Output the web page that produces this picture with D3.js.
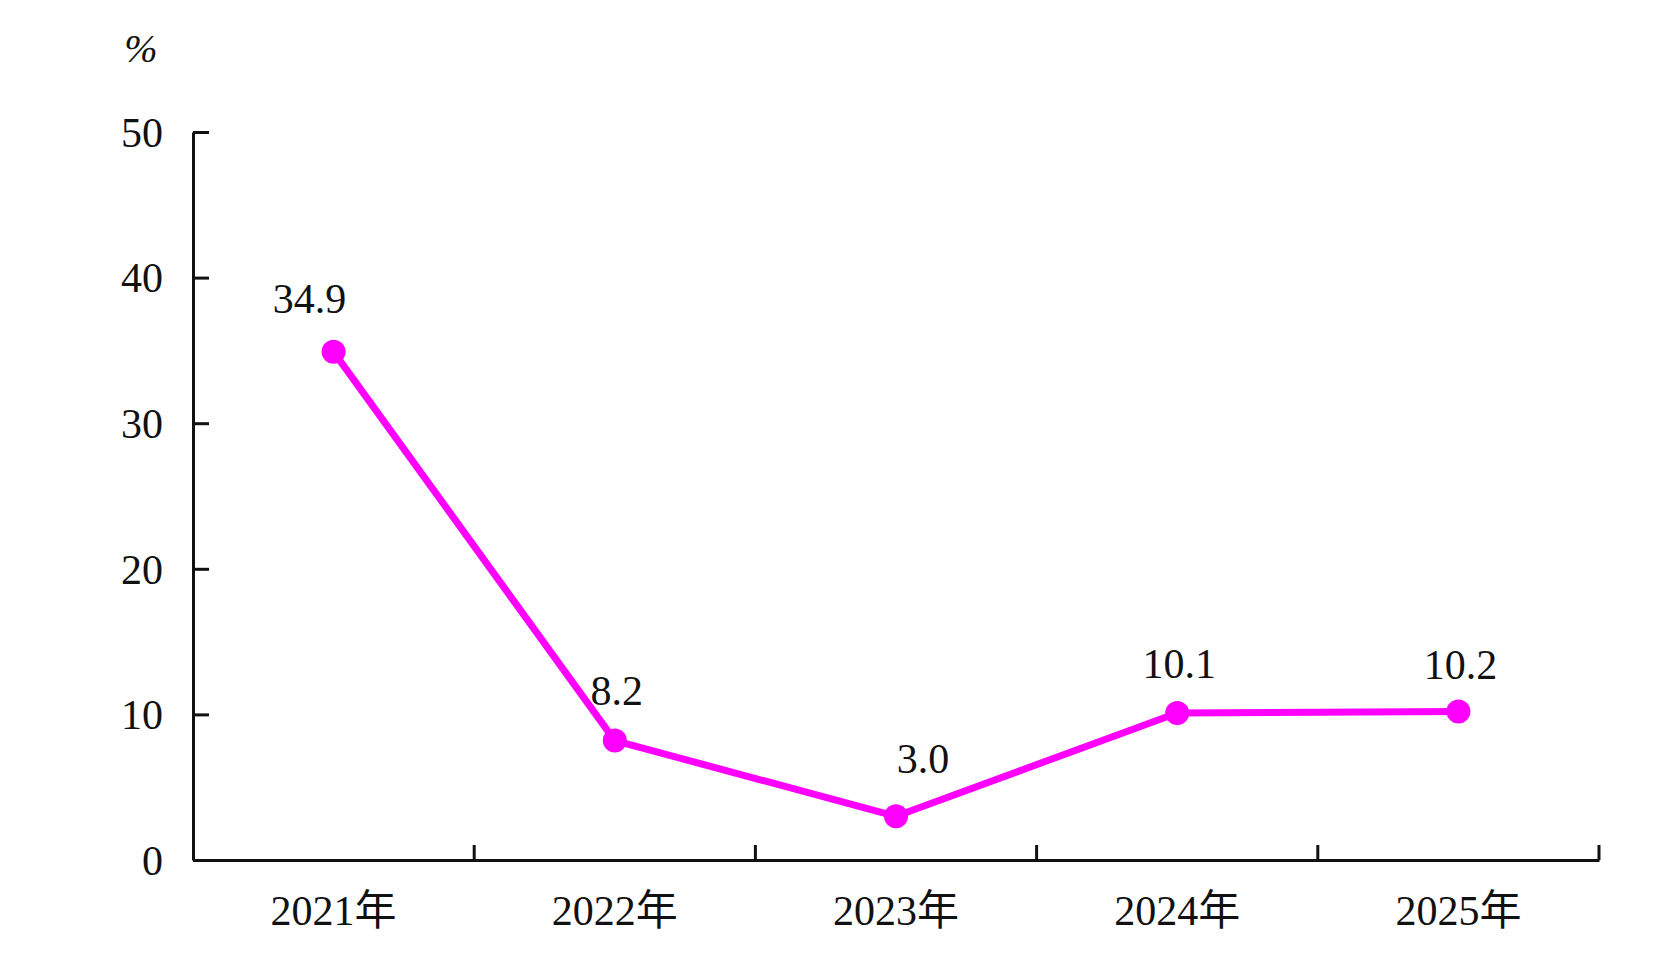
<!DOCTYPE html>
<html>
<head>
<meta charset="utf-8">
<script src="https://cdn.jsdelivr.net/npm/d3@7"></script>
<style>
  body { margin: 0; background: #fff; }
  text { font-family: "Liberation Serif", "Times New Roman", "Noto Sans CJK SC", serif; fill: #111; }
</style>
</head>
<body>
<div id="chart"></div>
<script>
width = 1661
height = 959

// data
let years = ["2021年", "2022年", "2023年", "2024年", "2025年"]
let values = [34.9, 8.2, 3.0, 10.1, 10.2]
let yTicks = [0, 10, 20, 30, 40, 50]
let unitLabel = "%"

// small nudges for value labels
let labelDx = [-24, 2, 27, 2, 2]
let labelDy = [-39, -36, -43, -35, -32]

let margin = {left: 193, right: 62, top: 132, bottom: 99}

let svg = d3.select("#chart")
  .append("svg")
  .attr("width", width)
  .attr("height", height)

let x = d3.scaleBand()
  .domain(years)
  .range([margin.left, width - margin.right])

let y = d3.scaleLinear()
  .domain([0, 50])
  .range([height - margin.bottom, margin.top])

let FONT = 42

// y axis
let yAxis = svg.append("g")
  .attr("transform", `translate(${margin.left},0)`)
  .call(d3.axisRight(y).tickValues(yTicks).tickSize(16).tickSizeOuter(0).tickFormat(d3.format("d")))
yAxis.select(".domain").attr("stroke", "#111").attr("stroke-width", 3)
yAxis.selectAll(".tick line").attr("stroke", "#111").attr("stroke-width", 3)
yAxis.selectAll(".tick text")
  .attr("x", -30)
  .attr("dy", "0.34em")
  .attr("text-anchor", "end")
  .style("font-size", FONT + "px")
  .style("font-family", '"Liberation Serif", serif')
  .attr("fill", "#111")

// x axis: ticks sit on band boundaries, pointing up
let xAxis = svg.append("g")
  .attr("transform", `translate(0,${height - margin.bottom})`)
  .call(d3.axisBottom(x).tickSize(0).tickSizeOuter(0))
xAxis.select(".domain").attr("stroke", "#111").attr("stroke-width", 3)
xAxis.selectAll(".tick text")
  .attr("y", 65)
  .attr("dy", 0)
  .style("font-size", FONT + "px")
  .attr("fill", "#111")

svg.append("g")
  .selectAll("line")
  .data(years)
  .enter().append("line")
  .attr("x1", d => x(d) + x.bandwidth())
  .attr("x2", d => x(d) + x.bandwidth())
  .attr("y1", y(0))
  .attr("y2", y(0) - 15)
  .attr("stroke", "#111")
  .attr("stroke-width", 3)

// unit
svg.append("text")
  .attr("x", 141)
  .attr("y", 62)
  .attr("text-anchor", "middle")
  .style("font-size", "40px")
  .style("font-style", "italic")
  .text(unitLabel)

let pts = values.map((v, i) => ({name: years[i], value: v, i: i}))
let cx = d => x(d.name) + x.bandwidth() / 2

let line = d3.line()
  .x(cx)
  .y(d => y(d.value))

svg.append("path")
  .datum(pts)
  .attr("d", line)
  .attr("fill", "none")
  .attr("stroke", "#ff00ff")
  .attr("stroke-width", 7)
  .attr("stroke-linejoin", "round")

svg.selectAll("circle.dot")
  .data(pts)
  .enter().append("circle")
  .attr("class", "dot")
  .attr("cx", cx)
  .attr("cy", d => y(d.value))
  .attr("r", 12)
  .attr("fill", "#ff00ff")

svg.selectAll("text.val")
  .data(pts)
  .enter().append("text")
  .attr("class", "val")
  .attr("x", d => cx(d) + labelDx[d.i])
  .attr("y", d => y(d.value) + labelDy[d.i])
  .attr("text-anchor", "middle")
  .style("font-size", FONT + "px")
  .text(d => d.value.toFixed(1))
</script>
</body>
</html>
